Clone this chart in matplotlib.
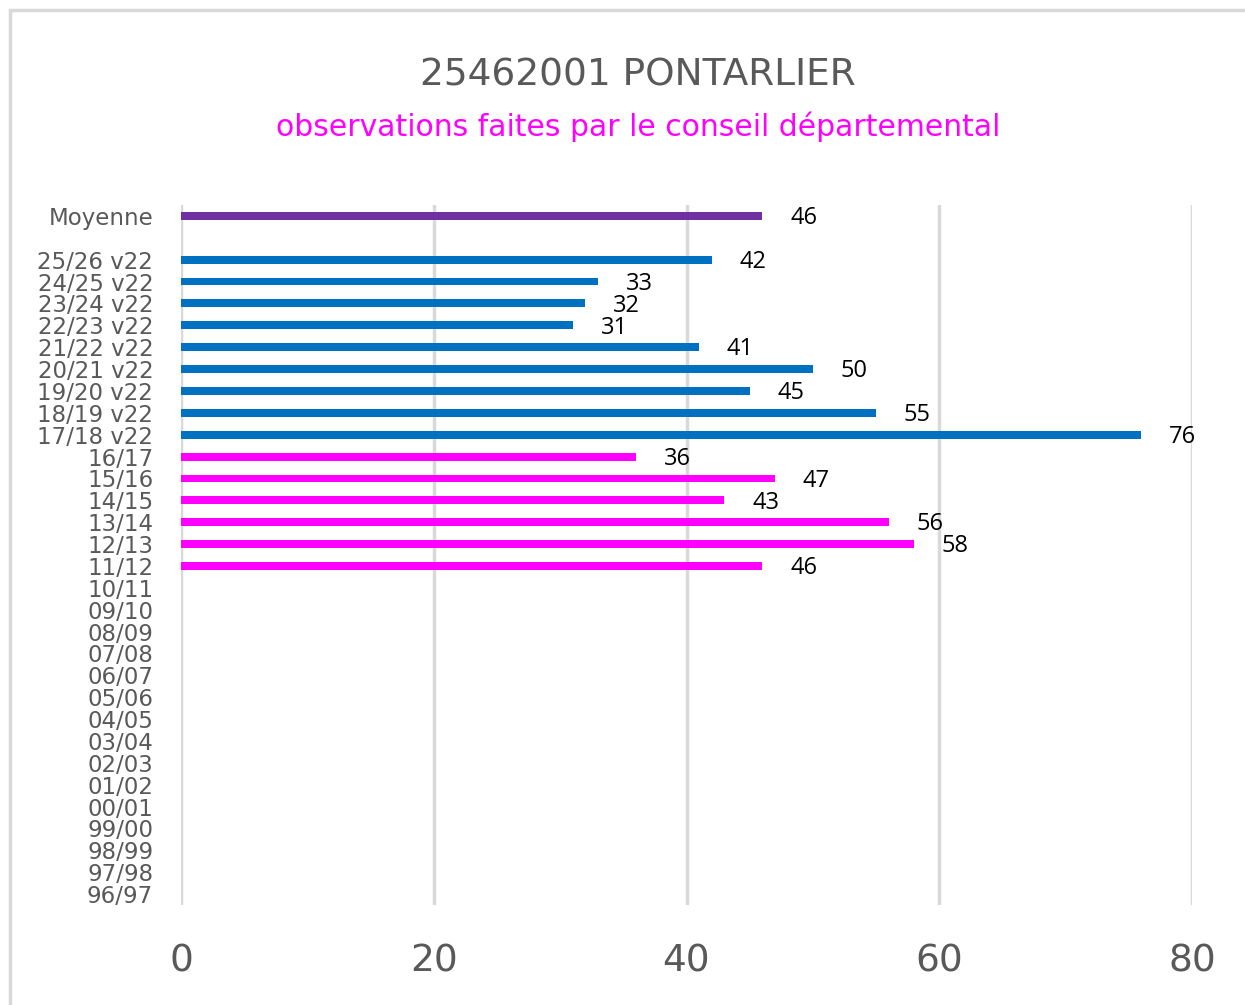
#!/usr/bin/env python
# -*- coding: utf-8 -*-

import matplotlib
matplotlib.use('Agg')
import matplotlib.pyplot as plt
from matplotlib.patches import Rectangle

# categories, top to bottom ('' is the empty slot under Moyenne)
labels = ['Moyenne', '',
          '25/26 v22', '24/25 v22', '23/24 v22', '22/23 v22', '21/22 v22',
          '20/21 v22', '19/20 v22', '18/19 v22', '17/18 v22',
          '16/17', '15/16', '14/15', '13/14', '12/13', '11/12',
          '10/11', '09/10', '08/09', '07/08', '06/07', '05/06', '04/05',
          '03/04', '02/03', '01/02', '00/01', '99/00', '98/99', '97/98', '96/97']

moyenne = [46]
v22_values = [42, 33, 32, 31, 41, 50, 45, 55, 76]
old_values = [36, 47, 43, 56, 58, 46]

title = '25462001 PONTARLIER'
subtitle = 'observations faites par le conseil départemental'
xticks = [0, 20, 40, 60, 80]

plt.rcParams['font.family'] = ['DejaVu Sans']

fig = plt.figure(figsize=(12.45, 10.05), dpi=100)
fig.patches.append(Rectangle((10 / 1245, -0.1), 1.2, 1 - 10 / 1005 + 0.1,
                             transform=fig.transFigure, fill=False,
                             edgecolor='#d9d9d9', linewidth=2.5))

ax = fig.add_axes([181 / 1245, 1 - 905 / 1005, 1011 / 1245, 700 / 1005])

values = moyenne + [None] + v22_values + old_values
colors = ['#7030A0', None] + ['#0070C0'] * len(v22_values) + ['#FF00FF'] * len(old_values)

for i, (v, c) in enumerate(zip(values, colors)):
    if v is None:
        continue
    ax.barh(i, v, height=0.36, color=c, zorder=3)
    ax.text(v + 2.2, i + 0.1, str(v), va='center', ha='left',
            fontsize=17, color='black', family=['Open Sans', 'DejaVu Sans'])

ax.set_ylim(len(labels) - 0.5, -0.5)
ax.set_yticks(range(len(labels)))
ax.set_yticklabels(labels, fontsize=16.5, color='#595959')
ax.set_xlim(0, 80)
ax.set_xticks(xticks)
ax.set_xticklabels([str(t) for t in xticks], fontsize=27, color='#595959')
ax.tick_params(axis='both', length=0)
ax.tick_params(axis='x', pad=28)
ax.tick_params(axis='y', pad=20)

for t in xticks:
    ax.axvline(t, color='#d9d9d9', linewidth=2.5, zorder=1)
for s in ['top', 'right', 'bottom', 'left']:
    ax.spines[s].set_visible(False)

fig.text(638 / 1245, 1 - 76 / 1005, title, ha='center', va='center',
         fontsize=27, color='#595959')
fig.text(638 / 1245, 1 - 127 / 1005, subtitle, ha='center', va='center',
         fontsize=21.5, color='#FF00FF')

fig.savefig('out.png', dpi=100)
